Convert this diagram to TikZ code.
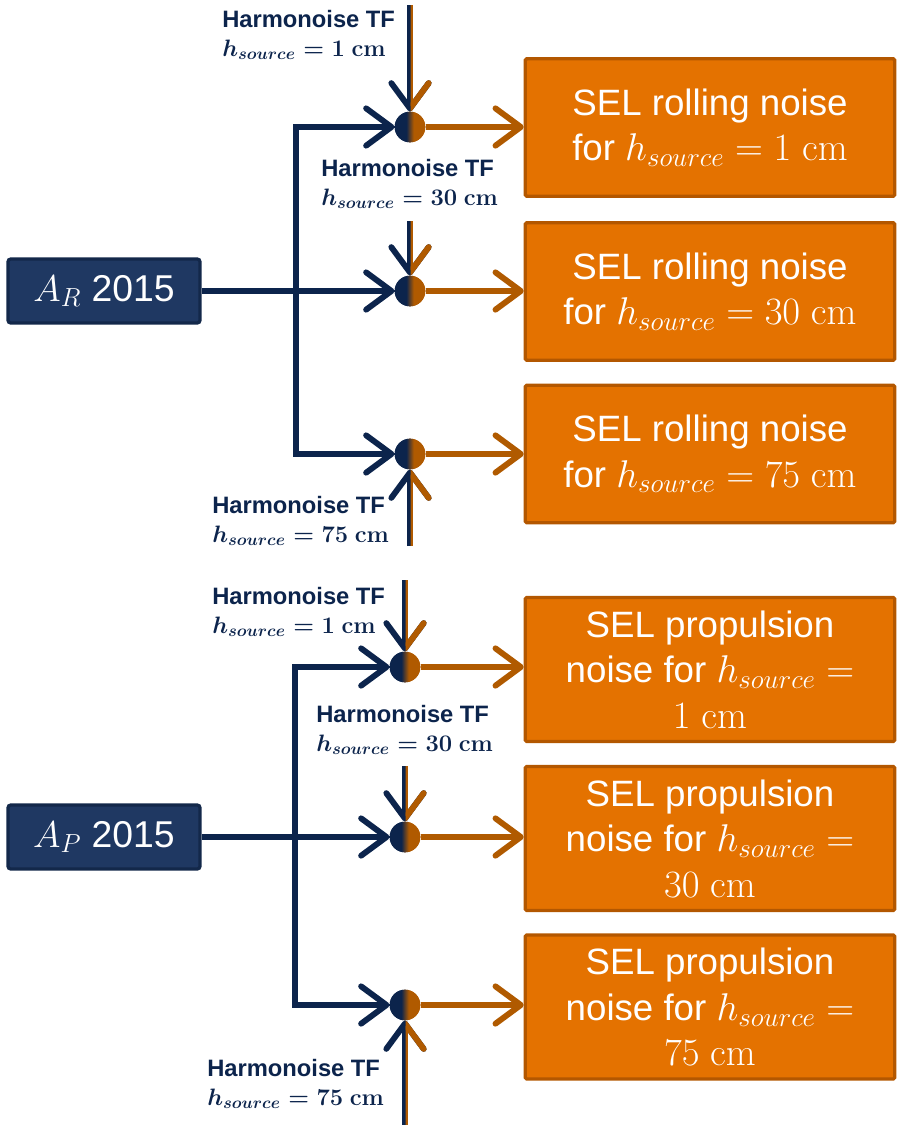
\documentclass[tikz,border=0pt]{standalone}
\usepackage{fix-cm}
\usepackage[no-math]{fontspec}
\setmainfont{Liberation Sans}
\usetikzlibrary{arrows.meta}
\definecolor{navy}{HTML}{0C244C}
\definecolor{navyfill}{HTML}{1F3862}
\definecolor{navyborder}{HTML}{13284A}
\definecolor{rust}{HTML}{B05A00}
\definecolor{orangefill}{HTML}{E47200}
\definecolor{orangeborder}{HTML}{B35700}
\pgfdeclarehorizontalshading{navyrust}{100bp}{color(0bp)=(navy); color(44bp)=(navy); color(56bp)=(rust); color(100bp)=(rust)}
\tikzset{
  source/.style={draw=navyborder,fill=navyfill,line width=2.4pt,rounded corners=2pt,
    text=white,font=\fontsize{28}{34}\selectfont,minimum width=144pt,minimum height=48pt},
  result/.style={draw=orangeborder,fill=orangefill,line width=2.4pt,rounded corners=1pt,
    text=white,font=\fontsize{27.5}{34}\selectfont,align=center,minimum width=277pt},
  mixer/.style={circle,shading=navyrust,minimum size=23pt,inner sep=0pt},
  feed/.style={-{Straight Barb[length=19pt,width=28pt,round]},draw=navy,line width=4.4pt},
  trunk/.style={draw=navy,line width=4.4pt},
  outflow/.style={-{Straight Barb[length=19pt,width=28pt,round]},draw=rust,line width=4.4pt},
  tfarrow/.style={-{Straight Barb[length=19pt,width=28pt,round]},line width=4.4pt},
  tflabel/.style={text=navy,font=\bfseries\boldmath\fontsize{17.8}{21.5}\selectfont,
    align=left,inner sep=0pt,anchor=north west},
}
\newcommand{\tftext}[1]{Harmonoise TF\\$h_{source}=#1\ \mathrm{cm}$}
\newcommand{\boxmath}[1]{{\fontsize{29}{34}\selectfont$#1$}}

\begin{document}
\begin{tikzpicture}[x=0.75pt,y=-0.75pt]
  \useasboundingbox (0,0) rectangle (897,1125);

  % sources
  \node[source] (ar) at (104,291) {$A_R$ 2015};
  \node[source] (ap) at (104,837) {$A_P$ 2015};

  % mixers and results, rolling then propulsion
  \foreach \n/\x/\y in {c1/410/127,c2/410/291,c3/410/454,c4/405/667,c5/405/837,c6/405/1005}
    \node[mixer] (\n) at (\x,\y) {};

  \foreach \n/\y/\h in {r1/127.5/1,r2/291.5/30,r3/454/75}
    \node[result,minimum height=103pt] (\n) at (710,\y)
      {SEL rolling noise\\for \boxmath{h_{source}=\h\ \mathrm{cm}}};
  \foreach \n/\y/\h in {p1/669.5/1,p2/838.5/30,p3/1007/75}
    \node[result,minimum height=108pt] (\n) at (710,\y)
      {SEL propulsion\\noise for \boxmath{h_{source}=}\\\boxmath{\h\ \mathrm{cm}}};

  % branches from the sources
  \coordinate (jr) at (296,291);
  \coordinate (jp) at (295,837);
  \draw[trunk] (ar.east) -- (jr);
  \draw[trunk] (ap.east) -- (jp);
  \foreach \j/\a/\b/\c in {jr/c1/c2/c3,jp/c4/c5/c6} {
    \draw[feed,line join=miter] (\j) |- (\a.west);
    \draw[feed] (\j) -- (\b.west);
    \draw[feed,line join=miter] (\j) |- (\c.west);
  }
  \foreach \c/\r in {c1/r1,c2/r2,c3/r3,c4/p1,c5/p2,c6/p3}
    \draw[outflow] (\c.east) -- (\c.east -| \r.west);

  % transfer function inputs
  \coordinate (t1) at (410,5);
  \coordinate (t2) at (410,221);
  \coordinate (t3) at (410,546);
  \coordinate (t4) at (405,580);
  \coordinate (t5) at (405,766);
  \coordinate (t6) at (405,1125);
  \foreach \s/\c in {t1/c1,t2/c2,t3/c3,t4/c4,t5/c5,t6/c6} {
    \draw[tfarrow,navy] (\s) -- (\c);
    \begin{scope}
      \clip (\c) ++(0.5,-600) rectangle ++(30,1200);
      \draw[tfarrow,rust] (\s) -- (\c);
    \end{scope}
    \node[mixer] at (\c) {};
  }

  \node[tflabel] (l1) at (222,10) {\tftext{1}};
  \node[tflabel] (l2) at (321,159) {\tftext{30}};
  \node[tflabel] (l3) at (212,496) {\tftext{75}};
  \node[tflabel] (l4) at (212,587) {\tftext{1}};
  \node[tflabel] (l5) at (316,705) {\tftext{30}};
  \node[tflabel] (l6) at (207,1059) {\tftext{75}};
\end{tikzpicture}
\end{document}
